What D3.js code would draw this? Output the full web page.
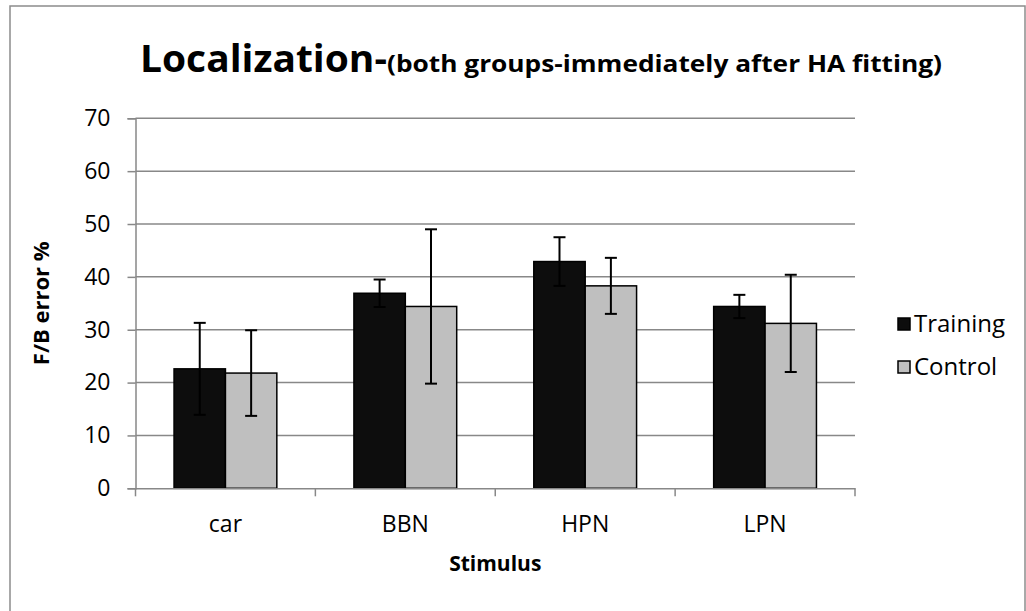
<!DOCTYPE html>
<html>
<head>
<meta charset="utf-8">
<script src="https://cdn.jsdelivr.net/npm/d3@7"></script>
<style>
  body { margin: 0; background: #fff; }
  text { font-family: "Open Sans", "Liberation Sans", sans-serif; }
</style>
</head>
<body>
<script>
var categories = ["car", "BBN", "HPN", "LPN"];
var seriesNames = ["Training", "Control"];
var training = [22.6, 36.9, 42.9, 34.4];
var control = [21.8, 34.4, 38.3, 31.2];
var trainingErr = [8.7, 2.6, 4.6, 2.2];
var controlErr = [8.1, 14.6, 5.3, 9.2];
var yTicks = [0, 10, 20, 30, 40, 50, 60, 70];

var W = 1026, H = 611;
var colors = {Training: "#0d0d0d", Control: "#bfbfbf"};

var svg = d3.select("body").append("svg")
    .attr("width", W)
    .attr("height", H);

// outer frame
svg.append("rect")
    .attr("x", 10).attr("y", 6)
    .attr("width", 1015).attr("height", 620)
    .attr("fill", "none")
    .attr("stroke", "#8c8c8c")
    .attr("stroke-width", 1.5);

var plotLeft = 135.5, plotRight = 855, plotTop = 118.3, plotBottom = 488.3;

var y = d3.scaleLinear().domain([0, 70]).range([plotBottom, plotTop]);
var x = d3.scaleBand().domain(categories).range([plotLeft, plotRight]).padding(0);
var xs = d3.scaleBand().domain(seriesNames).range([0, x.bandwidth()])
    .paddingInner(0).paddingOuter(0.75);

// grid
svg.append("g").selectAll("line")
    .data(yTicks.filter(function (d) { return d > 0; }))
    .enter().append("line")
    .attr("x1", plotLeft).attr("x2", plotRight)
    .attr("y1", function (d) { return y(d); })
    .attr("y2", function (d) { return y(d); })
    .attr("stroke", "#888")
    .attr("stroke-width", 1.5);

// y axis
var yAxis = svg.append("g")
    .attr("transform", "translate(" + plotLeft + ",0)")
    .call(d3.axisLeft(y).tickValues(yTicks).tickSize(8).tickPadding(17));
yAxis.select(".domain").attr("stroke", "#888").attr("stroke-width", 1.5);
yAxis.selectAll(".tick line").attr("stroke", "#888").attr("stroke-width", 1.5);
yAxis.selectAll(".tick text")
    .attr("font-size", 23)
    .attr("fill", "#000")
    .attr("font-family", "Open Sans");

// bars
var rows = categories.map(function (c, i) {
    return [
        {cat: c, s: "Training", v: training[i], e: trainingErr[i]},
        {cat: c, s: "Control", v: control[i], e: controlErr[i]}
    ];
});
var flat = [].concat.apply([], rows);

svg.append("g").selectAll("rect")
    .data(flat)
    .enter().append("rect")
    .attr("x", function (d) { return x(d.cat) + xs(d.s); })
    .attr("y", function (d) { return y(d.v); })
    .attr("width", xs.bandwidth())
    .attr("height", function (d) { return plotBottom - y(d.v); })
    .attr("fill", function (d) { return colors[d.s]; })
    .attr("stroke", "#000")
    .attr("stroke-width", 1.5);

// x axis
var xAxis = svg.append("g")
    .attr("transform", "translate(0," + plotBottom + ")")
    .call(d3.axisBottom(x).tickSize(0).tickPadding(27));
xAxis.select(".domain").attr("stroke", "#888").attr("stroke-width", 1.5);
xAxis.selectAll(".tick text")
    .attr("font-size", 23)
    .attr("fill", "#000")
    .attr("font-family", "Open Sans");
svg.append("g").selectAll("line")
    .data(categories.map(function (c) { return x(c); }).concat([plotRight]))
    .enter().append("line")
    .attr("x1", function (d) { return d; })
    .attr("x2", function (d) { return d; })
    .attr("y1", plotBottom).attr("y2", plotBottom + 8)
    .attr("stroke", "#888")
    .attr("stroke-width", 1.5);

// error bars
var eb = svg.append("g").selectAll("g")
    .data(flat)
    .enter().append("g")
    .attr("stroke", "#000")
    .attr("stroke-width", 2);
function cx(d) { return x(d.cat) + xs(d.s) + xs.bandwidth() / 2; }
eb.append("line")
    .attr("x1", cx).attr("x2", cx)
    .attr("y1", function (d) { return y(d.v + d.e); })
    .attr("y2", function (d) { return y(d.v - d.e); });
eb.append("line")
    .attr("x1", function (d) { return cx(d) - 6; })
    .attr("x2", function (d) { return cx(d) + 6; })
    .attr("y1", function (d) { return y(d.v + d.e); })
    .attr("y2", function (d) { return y(d.v + d.e); });
eb.append("line")
    .attr("x1", function (d) { return cx(d) - 6; })
    .attr("x2", function (d) { return cx(d) + 6; })
    .attr("y1", function (d) { return y(d.v - d.e); })
    .attr("y2", function (d) { return y(d.v - d.e); });

// title
var title = svg.append("text")
    .attr("x", 140).attr("y", 72)
    .attr("font-weight", "bold")
    .attr("fill", "#000");
title.append("tspan").attr("font-size", 38)
    .attr("textLength", 247).attr("lengthAdjust", "spacingAndGlyphs")
    .text("Localization-");
title.append("tspan").attr("font-size", 24)
    .attr("textLength", 555).attr("lengthAdjust", "spacingAndGlyphs")
    .text("(both groups-immediately after HA fitting)");

// axis titles
svg.append("text")
    .attr("transform", "translate(49," + ((plotTop + plotBottom) / 2) + ") rotate(-90)")
    .attr("text-anchor", "middle")
    .attr("font-size", 22)
    .attr("font-weight", "bold")
    .text("F/B error %");

svg.append("text")
    .attr("x", (plotLeft + plotRight) / 2).attr("y", 571)
    .attr("text-anchor", "middle")
    .attr("font-size", 21)
    .attr("font-weight", "bold")
    .text("Stimulus");

// legend
var lg = svg.append("g").selectAll("g")
    .data(seriesNames)
    .enter().append("g")
    .attr("transform", function (d, i) { return "translate(898," + (318 + i * 43) + ")"; });
lg.append("rect")
    .attr("width", 12).attr("height", 12)
    .attr("fill", function (d) { return colors[d]; })
    .attr("stroke", "#000")
    .attr("stroke-width", 1.5);
lg.append("text")
    .attr("x", 16).attr("y", 14)
    .attr("font-size", 24)
    .text(function (d) { return d; });
</script>
</body>
</html>
